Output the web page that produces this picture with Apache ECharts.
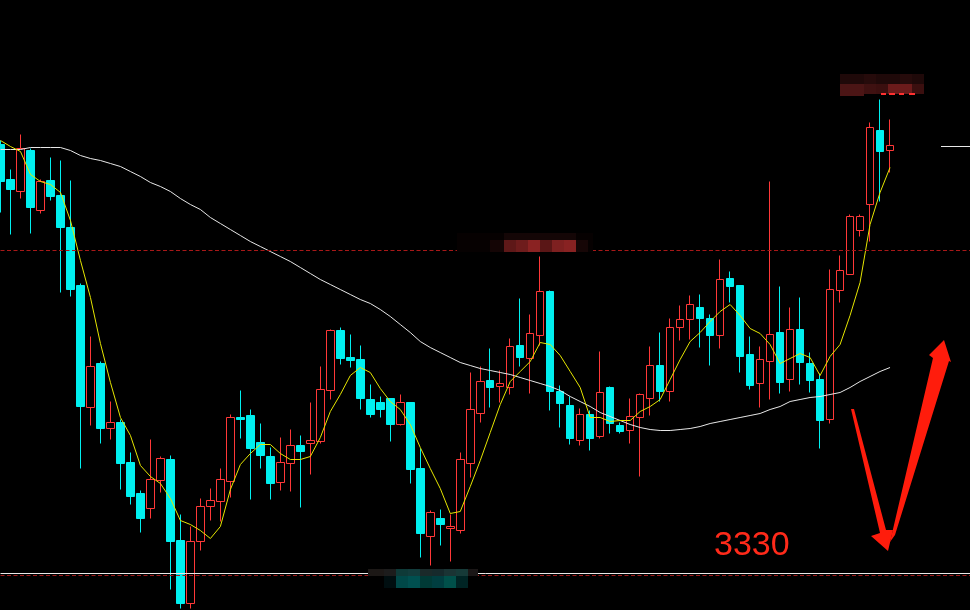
<!DOCTYPE html>
<html><head><meta charset="utf-8">
<script src="https://cdn.jsdelivr.net/npm/echarts@6/dist/echarts.min.js"></script>
<style>html,body{margin:0;padding:0;background:#000}#c{width:970px;height:610px}</style>
</head><body><div id="c"></div>
<script>
// ---- data ----
const categories = Array.from({length: 90}, (_, i) => 'K' + (i + 1));
const opens = [3755,3720,3708,3749,3689,3719,3704,3672,3614,3492,
  3536,3471,3477,3437,3406,3391,3419,3440,3359,3296,
  3358,3393,3398,3418,3482,3484,3457,3443,3417,3436,
  3454,3456,3458,3509,3569,3542,3540,3500,3497,3501,
  3475,3497,3431,3363,3381,3371,3369,3436,3486,3519,
  3513,3512,3554,3541,3564,3608,3508,3494,3459,3485,
  3463,3512,3474,3469,3482,3501,3534,3508,3572,3580,
  3592,3581,3564,3621,3614,3545,3516,3538,3567,3520,
  3570,3536,3520,3480,3609,3625,3669,3695,3769,3749];
const closes = [3718,3710,3751,3692,3718,3703,3672,3610,3493,3533,
  3471,3477,3436,3403,3381,3420,3441,3358,3296,3358,
  3393,3399,3420,3482,3480,3451,3444,3416,3437,3454,
  3448,3459,3510,3569,3541,3539,3501,3485,3490,3475,
  3497,3430,3366,3387,3375,3373,3440,3490,3518,3512,
  3516,3553,3542,3566,3608,3508,3496,3461,3485,3461,
  3507,3476,3468,3483,3505,3534,3508,3572,3580,3595,
  3581,3564,3620,3613,3543,3514,3540,3565,3517,3570,
  3537,3519,3479,3610,3629,3683,3683,3772,3748,3754];
const lows = [3687,3665,3701,3666,3686,3699,3607,3603,3431,3474,
  3456,3460,3410,3395,3367,3381,3407,3310,3291,3291,
  3349,3379,3378,3402,3461,3400,3431,3400,3409,3408,
  3392,3425,3456,3500,3535,3532,3490,3482,3482,3458,
  3474,3416,3342,3334,3354,3338,3366,3422,3477,3492,
  3497,3505,3533,3506,3554,3489,3472,3455,3454,3449,
  3461,3466,3466,3456,3423,3484,3498,3498,3559,3560,
  3552,3534,3551,3597,3527,3510,3492,3500,3506,3508,
  3515,3507,3451,3476,3597,3625,3663,3658,3698,3727];
const highs = [3759,3730,3765,3751,3720,3742,3739,3719,3616,3563,
  3538,3498,3480,3447,3409,3460,3443,3444,3385,3373,
  3401,3411,3431,3485,3509,3490,3476,3452,3462,3470,
  3464,3497,3533,3570,3572,3565,3554,3515,3503,3501,
  3505,3497,3451,3389,3390,3385,3447,3527,3533,3551,
  3529,3561,3601,3585,3643,3609,3514,3503,3491,3489,
  3548,3513,3477,3501,3506,3553,3567,3581,3594,3604,
  3605,3585,3640,3628,3614,3563,3553,3718,3613,3592,
  3602,3547,3526,3630,3644,3685,3685,3777,3800,3780];
const ma5 = [3759,3753,3748,3725,3718,3715,3707,3679,3639,3602,
  3556,3517,3482,3464,3434,3423,3416,3401,3379,3375,
  3369,3361,3373,3410,3435,3446,3455,3455,3446,3440,
  3440,3443,3462,3488,3505,3524,3532,3527,3511,3498,
  3490,3475,3452,3431,3411,3386,3388,3413,3439,3467,
  3495,3518,3528,3538,3557,3555,3544,3528,3512,3482,
  3482,3478,3479,3479,3488,3493,3500,3520,3540,3558,
  3567,3578,3588,3595,3584,3571,3566,3555,3536,3541,
  3546,3542,3524,3543,3555,3584,3617,3675,3707,3732];
const maLong = [3750,3750,3750,3752,3752,3752,3752,3749,3744,3741,
  3739,3736,3733,3728,3723,3717,3713,3708,3701,3695,
  3690,3682,3676,3670,3664,3658,3653,3648,3643,3638,
  3632,3626,3620,3615,3610,3605,3600,3596,3590,3583,
  3575,3567,3558,3552,3547,3542,3537,3534,3531,3529,
  3527,3525,3522,3519,3516,3513,3509,3503,3498,3493,
  3487,3483,3479,3475,3472,3470,3469,3469,3470,3471,
  3473,3476,3478,3480,3482,3484,3486,3490,3493,3498,
  3500,3502,3503,3505,3507,3512,3518,3523,3528,3532];
const resistanceLevel = 3649;
const supportLevel = 3326;
const supportDash = 3324;
const lastPrice = 3754;
const noteText = '3330';

// ---- chart ----
const kData = opens.map((o, i) => [o, closes[i], lows[i], highs[i]]);
const chart = echarts.init(document.getElementById('c'), null, {renderer: 'canvas'});

function rect(x, y, w, h, fill) {
  return {type: 'rect', z: 100, silent: true, shape: {x, y, width: w, height: h}, style: {fill}};
}

const labelBlocks = [
  // top label (blurred)
  rect(840, 74, 84, 10, '#1f0909'), rect(864, 74, 12, 10, '#260b0b'), rect(900, 74, 12, 10, '#260b0b'),
  rect(840, 84, 24, 12, '#4b1515'), rect(864, 84, 12, 10, '#3f1111'), rect(876, 84, 12, 10, '#3b0f0f'),
  rect(888, 84, 24, 10, '#6b1b1b'), rect(912, 84, 12, 10, '#3b0f0f'),
  rect(881, 93, 5, 2, '#ff3030'), rect(889, 93, 6, 2, '#ff3030'), rect(899, 93, 5, 2, '#ff3030'), rect(909, 93, 6, 2, '#ff3030'),
  // middle label (blurred)
  rect(457, 233, 136, 19, '#060101'), rect(504, 233, 72, 7, '#140606'),
  rect(490, 240, 14, 12, '#140505'), rect(504, 240, 12, 12, '#5e1818'), rect(516, 240, 12, 12, '#6e1c1c'),
  rect(528, 240, 12, 12, '#8a2222'), rect(540, 240, 12, 12, '#5a1616'), rect(552, 240, 12, 12, '#7e2020'),
  rect(564, 240, 12, 12, '#882222'), rect(576, 240, 12, 12, '#160606'),
  // bottom label (blurred)
  rect(368, 569, 110, 20, '#000000'),
  rect(368, 569, 16, 7, '#1c1816'), rect(384, 569, 12, 7, '#1c1c1c'), rect(396, 569, 12, 7, '#0e3a38'),
  rect(408, 569, 12, 7, '#123c3c'), rect(420, 569, 12, 7, '#1a2a2a'), rect(432, 569, 12, 7, '#162a2c'),
  rect(444, 569, 12, 7, '#1a3434'), rect(456, 569, 12, 7, '#163a38'), rect(468, 569, 10, 7, '#1a1616'),
  rect(384, 576, 12, 12, '#000e10'), rect(396, 576, 12, 12, '#004848'), rect(408, 576, 12, 12, '#005050'),
  rect(420, 576, 12, 12, '#003a36'), rect(432, 576, 12, 12, '#003e40'), rect(444, 576, 12, 12, '#00504a'),
  rect(456, 576, 12, 12, '#002424')
];

const arrows = [
  {type: 'polygon', z: 100, silent: true,
   shape: {points: [[851,409],[854,409],[886,530],[893,530],[888,551],[871,536],[880,533]]},
   style: {fill: '#ff1c0c'}},
  {type: 'polygon', z: 100, silent: true,
   shape: {points: [[890,542],[933,358],[929,355],[944,340],[951,362],[949,361],[895,535]]},
   style: {fill: '#ff1c0c'}}
];

const option = {
  backgroundColor: '#000000',
  animation: false,
  grid: {left: 0.5, right: 0, top: 0, bottom: 0},
  xAxis: {type: 'category', data: categories, boundaryGap: false, max: 97, show: false},
  yAxis: {type: 'value', min: 3289.5, max: 3899.5, show: false, scale: true},
  series: [
    {
      type: 'candlestick', data: kData, barWidth: 8, z: 2,
      itemStyle: {color: '#000000', color0: '#00f0f0', borderColor: '#ff3838', borderColor0: '#00f0f0', borderWidth: 1},
      markLine: {
        silent: true, symbol: 'none', label: {show: false}, animation: false,
        data: [
          {yAxis: resistanceLevel, lineStyle: {color: '#a81818', type: [4, 2.5], width: 1}},
          {yAxis: supportDash, lineStyle: {color: '#a01a1a', type: [4, 2.5], width: 1}},
          {yAxis: supportLevel, lineStyle: {color: '#e8e8e8', type: 'solid', width: 1}}
        ]
      }
    },
    {type: 'line', data: maLong, symbol: 'none', z: 3, lineStyle: {color: '#e8e8e8', width: 1}},
    {type: 'line', data: ma5, symbol: 'none', z: 4, lineStyle: {color: '#e6e600', width: 1}}
  ],
  graphic: []
};
chart.setOption(option);

const yLast = Math.round(chart.convertToPixel({yAxisIndex: 0}, lastPrice)) + 0.5;
chart.setOption({
  graphic: labelBlocks.concat(arrows, [
    {type: 'line', z: 100, silent: true, shape: {x1: 941, y1: yLast, x2: 970, y2: yLast}, style: {stroke: '#e8e8e8', lineWidth: 1}},
    {type: 'text', z: 100, silent: true, x: 714, y: 546,
     style: {text: noteText, fill: '#ff2a1a', font: '34px "Liberation Sans", Arial, sans-serif', verticalAlign: 'middle', align: 'left'}}
  ])
});
</script>
</body></html>
